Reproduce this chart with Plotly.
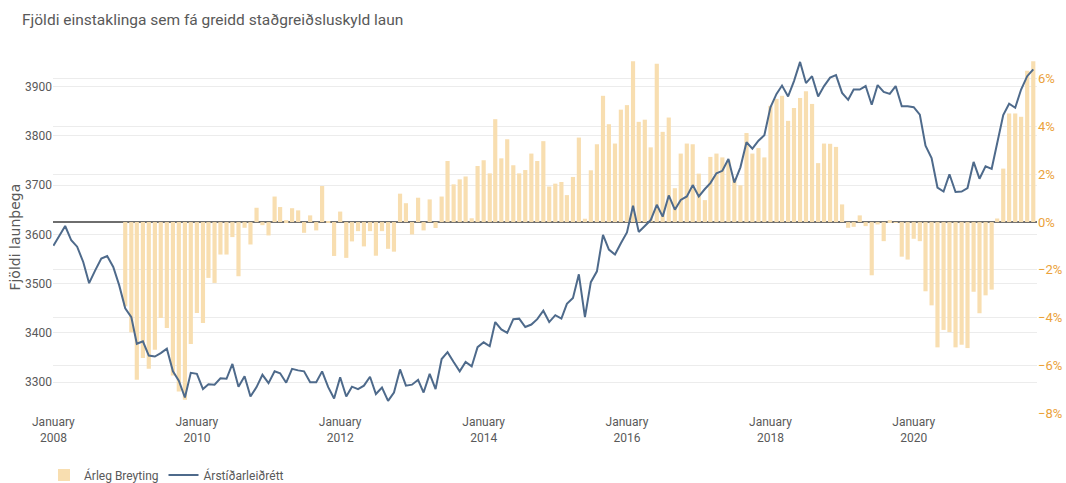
import pandas as pd
import plotly.graph_objects as go

# Monthly dates Jan 2008 .. Sep 2021
months = pd.date_range("2008-01-01", "2021-09-01", freq="MS")

# Seasonally adjusted number of wage earners (left axis)
seasonal_adj = [
    3577, 3597, 3617, 3588, 3575, 3544, 3501, 3527, 3551, 3556, 3534, 3497,
    3450, 3432, 3378, 3383, 3354, 3352, 3359, 3368, 3322, 3303, 3269, 3319,
    3317, 3286, 3296, 3295, 3308, 3307, 3337, 3291, 3312, 3271, 3290, 3315,
    3298, 3322, 3318, 3299, 3327, 3324, 3322, 3300, 3300, 3322, 3290, 3267,
    3310, 3271, 3291, 3286, 3293, 3311, 3276, 3289, 3262, 3279, 3326, 3293,
    3295, 3305, 3279, 3317, 3286, 3347, 3361, 3341, 3322, 3341, 3332, 3371,
    3381, 3373, 3422, 3407, 3400, 3428, 3429, 3412, 3417, 3428, 3445, 3422,
    3436, 3429, 3459, 3471, 3519, 3432, 3503, 3525, 3599, 3569, 3559, 3582,
    3604, 3658, 3605, 3617, 3629, 3660, 3636, 3679, 3650, 3670, 3677, 3700,
    3677, 3692, 3704, 3724, 3729, 3753, 3705, 3736, 3787, 3774, 3790, 3801,
    3858, 3885, 3902, 3880, 3911, 3950, 3907, 3921, 3880, 3901, 3918, 3923,
    3887, 3873, 3894, 3894, 3901, 3863, 3903, 3889, 3885, 3901, 3860, 3860,
    3858, 3843, 3780, 3755, 3695, 3687, 3722, 3686, 3687, 3694, 3747, 3713,
    3738, 3733, 3787, 3842, 3865, 3857, 3894, 3921, 3935,
]

# Yearly change in % (right axis), Jan 2009 .. Sep 2021
yearly_change = [
    -3.53, -4.62, -6.61, -5.70, -6.15, -5.35, -4.02, -4.44, -6.43, -7.10, -7.45, -5.11,
    -3.81, -4.23, -2.34, -2.55, -1.36, -1.36, -0.63, -2.27, -0.24, -0.94, 0.60, -0.13,
    -0.56, 1.07, 0.63, 0.08, 0.58, 0.49, -0.45, 0.28, -0.35, 1.51, 0.02, -1.42,
    0.44, -1.50, -0.81, -0.38, -1.02, -0.38, -1.41, -0.38, -1.12, -1.24, 1.19, 0.79,
    -0.52, 1.02, -0.35, 0.95, -0.25, 1.07, 2.56, 1.58, 1.79, 1.91, 0.16, 2.35,
    2.59, 2.04, 4.31, 2.67, 3.47, 2.38, 2.04, 2.18, 2.87, 2.56, 3.39, 1.49,
    1.61, 1.68, 1.13, 1.89, 3.54, 0.14, 2.17, 3.26, 5.29, 4.10, 3.29, 4.71,
    4.90, 6.74, 4.20, 4.29, 3.13, 6.63, 3.78, 4.38, 1.42, 2.87, 3.29, 3.26,
    2.03, 0.92, 2.73, 2.87, 2.71, 2.59, 1.84, 1.54, 3.73, 2.87, 3.10, 2.71,
    4.87, 5.16, 5.29, 4.24, 4.78, 5.20, 5.48, 4.95, 2.47, 3.29, 3.28, 3.15,
    0.74, -0.24, -0.20, 0.28, -0.17, -2.23, -0.10, -0.80, 0.08, -0.03, -1.45, -1.57,
    -0.70, -0.80, -2.90, -3.49, -5.25, -4.52, -4.61, -5.25, -5.14, -5.28, -2.92, -3.82,
    -3.07, -2.83, 0.15, 2.24, 4.55, 4.55, 4.41, 6.34, 6.74,
]
bar_months = months[12:]

x_tick_vals = ["2008-01-01", "2010-01-01", "2012-01-01", "2014-01-01",
               "2016-01-01", "2018-01-01", "2020-01-01"]
x_tick_text = ["January<br>2008", "January<br>2010", "January<br>2012", "January<br>2014",
               "January<br>2016", "January<br>2018", "January<br>2020"]
pct_ticks = [-8, -6, -4, -2, 0, 2, 4, 6]
pct_labels = ["−8%", "−6%", "−4%", "−2%", "0%", "2%", "4%", "6%"]
count_ticks = [3300, 3400, 3500, 3600, 3700, 3800, 3900]

TXT = "#595959"
FONT = "Roboto, Liberation Sans, sans-serif"
W, H = 1066, 483
ML, MR, MT, MB = 53, 29, 55, 70

fig = go.Figure()
fig.add_trace(go.Bar(
    x=bar_months, y=yearly_change, name="Árleg Breyting",
    marker=dict(color="#F8DEB0", line=dict(width=0)),
    width=0.7 * 30.4 * 86400000, yaxis="y",
))
fig.add_trace(go.Scatter(
    x=months, y=seasonal_adj, name="Árstíðarleiðrétt", mode="lines",
    line=dict(color="#4E6A8B", width=2), yaxis="y2",
))

fig.update_layout(
    width=W, height=H,
    margin=dict(l=ML, r=MR, t=MT, b=MB),
    paper_bgcolor="white", plot_bgcolor="white",
    font=dict(family=FONT, size=12, color=TXT),
    title=dict(text="Fjöldi einstaklinga sem fá greidd staðgreiðsluskyld laun",
               x=22 / W, xref="container", xanchor="left",
               y=1 - 20 / H, yref="container", yanchor="middle",
               font=dict(family=FONT, size=15.5, color=TXT)),
    showlegend=True,
    legend=dict(orientation="h", x=44 / W, xref="container", xanchor="left",
                y=1 - 475 / H, yref="container", yanchor="middle",
                font=dict(family=FONT, size=12, color=TXT), traceorder="normal"),
    xaxis=dict(type="date", range=["2007-12-30", "2021-09-20"],
               tickmode="array", tickvals=x_tick_vals, ticktext=x_tick_text,
               showgrid=False, zeroline=False, showline=False, ticks="",
               automargin=False,
               tickfont=dict(family=FONT, size=12, color=TXT)),
    yaxis=dict(side="right", range=[-8, 7], tickmode="array", tickvals=pct_ticks,
               ticktext=pct_labels, showgrid=True, gridcolor="#ececec", gridwidth=1,
               zeroline=True, zerolinecolor="#6e6e6e", zerolinewidth=1.5,
               automargin=False,
               tickfont=dict(family=FONT, size=13, color="#EBA23A"), ticks=""),
    yaxis2=dict(side="left", overlaying="y", range=[3237.5, 3964],
                tickmode="array", tickvals=count_ticks,
                showgrid=True, gridcolor="#ececec", gridwidth=1, zeroline=False,
                automargin=False,
                tickfont=dict(family=FONT, size=12, color=TXT), ticks=""),
    annotations=[dict(text="Fjöldi launþega", textangle=-90,
                      xref="paper", x=(15 - ML) / (W - ML - MR), xanchor="center",
                      yref="paper", y=0.49, yanchor="middle", showarrow=False,
                      font=dict(family="DejaVu Sans", size=14, color=TXT))],
)

fig.write_html("out.html", config={"displayModeBar": False},
               post_script="document.body.style.margin='0';")
